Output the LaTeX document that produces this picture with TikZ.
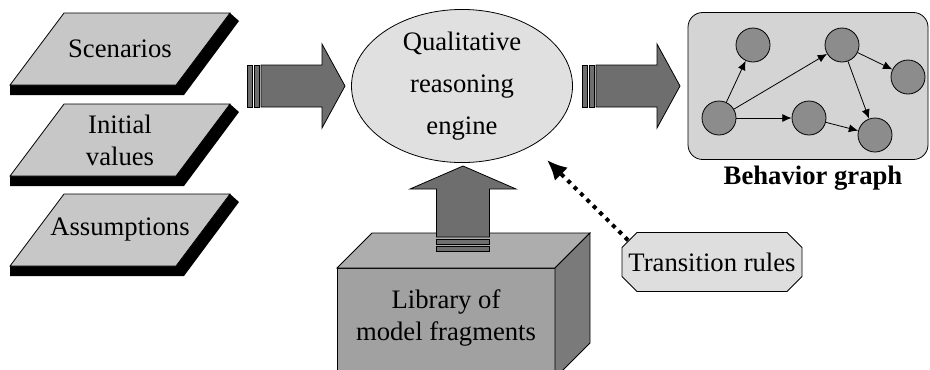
\documentclass[tikz,border=0pt]{standalone}
\usepackage{fontspec}
\setmainfont{Liberation Serif}
\usepackage{tikz}
\usetikzlibrary{shapes,arrows.meta,calc}
\definecolor{qrsheet}{rgb}{0.78,0.78,0.78}
\definecolor{qrengine}{rgb}{0.88,0.88,0.88}
\definecolor{qrblock}{rgb}{0.43,0.43,0.43}
\definecolor{qrgraph}{rgb}{0.83,0.83,0.83}
\definecolor{qrstate}{rgb}{0.55,0.55,0.55}
\definecolor{qrlibfront}{rgb}{0.63,0.63,0.63}
\definecolor{qrlibtop}{rgb}{0.68,0.68,0.68}
\definecolor{qrlibside}{rgb}{0.48,0.48,0.48}
\definecolor{qrrules}{rgb}{0.87,0.87,0.87}
\tikzstyle{qrsheet}=[draw, fill=qrsheet]
\tikzstyle{qrtext}=[align=center, inner sep=0pt]
\tikzstyle{qrblock}=[draw, fill=qrblock]
\tikzstyle{qrengine}=[ellipse, draw, fill=qrengine, inner sep=0pt, minimum width=165.75pt, minimum height=110.25pt, align=center, font=\fontsize{20}{31.5}\selectfont]
\tikzstyle{qrgraph}=[rectangle, rounded corners=11pt, draw, fill=qrgraph, minimum width=180pt, minimum height=110.25pt]
\tikzstyle{qrstate}=[circle, draw, fill=qrstate, inner sep=0pt, minimum size=25.5pt]
\tikzstyle{qredge}=[-{Latex[length=7pt,width=6pt]}]
\tikzstyle{qrlabel}=[font=\fontsize{20}{24}\selectfont\bfseries]
\tikzstyle{qrrules}=[inner xsep=0pt, inner ysep=9pt]
\tikzstyle{qrhint}=[line width=3pt, dash pattern=on 3pt off 3.75pt, -{Latex[length=15pt,width=14pt]}]
\newcommand{\qrsheet}[3]{
	\fill[black] ($(#2)+(-110,36)$) -- ++(0,10) -- ++(174,0) -- ++(55,-74) -- ++(-9,-8) -- cycle;
	\draw[qrsheet] ($(#2)+(-56,-36)$) -- ++(166,0) -- ++(-54,72) -- ++(-166,0) -- cycle;
	\node[qrtext] (#1) at (#2) {#3};}
\newcommand{\qrrule}[3]{
	\draw[fill=qrrules] ($(#2)+(-90,-14.5)$) -- ++(15,-15) -- ++(150,0) -- ++(15,15) -- ++(0,29) -- ++(-15,15) -- ++(-150,0) -- ++(-15,-15) -- cycle;
	\node[qrrules] (#1) at (#2) {#3};}
\newcommand{\qrarrow}[4]{
	\begin{scope}[shift={(#1)}, rotate=#2]
		\draw[qrblock] (0,-#4) rectangle (5,#4);
		\draw[qrblock] (7,-#4) rectangle (12,#4);
		\draw[qrblock] (14,-#4) -- ++(#3,0) -- ++(0,-#4) -- ++(23,2*#4) -- ++(-23,2*#4) -- ++(0,-#4) -- ++(-#3,0) -- cycle;
	\end{scope}}

\begin{document}
\begin{tikzpicture}[x=0.75pt, y=-0.75pt, line width=0.6pt, font=\fontsize{20}{24}\selectfont]
	\clip (0,0) rectangle (930,369);

	\qrsheet{scen}{120,49}{Scenarios}
	\qrsheet{init}{120,140}{Initial\\values}
	\qrsheet{assm}{120,230}{Assumptions}

	\qrarrow{247,86}{0}{61}{21}
	\node[qrengine] (eng) at (462,86) {Qualitative\\reasoning\\engine};
	\qrarrow{582,86}{0}{61}{21}

	\node[qrgraph] (graph) at (808,86) {};
	\node[qrstate] (s1) at (719,118) {};
	\node[qrstate] (s2) at (753,45) {};
	\node[qrstate] (s3) at (842,45) {};
	\node[qrstate] (s4) at (908,77) {};
	\node[qrstate] (s5) at (809,118) {};
	\node[qrstate] (s6) at (875,135) {};
	\path[qredge] (s1) edge (s2) edge (s3) edge (s5);
	\path[qredge] (s3) edge (s4) edge (s6);
	\path[qredge] (s5) edge (s6);
	\node[qrlabel] (glabel) at (813,178) {Behavior graph};

	\draw[fill=qrlibfront] (337,268) rectangle (555,380);
	\draw[fill=qrlibtop] (337,268) -- (372,233) -- (590,233) -- (555,268) -- cycle;
	\draw[fill=qrlibside] (555,268) -- (590,233) -- (590,343) -- (555,378) -- cycle;
	\node[qrtext] (lib) at (446,318) {Library of\\model fragments};
	\qrarrow{463,251}{90}{48}{26.5}

	\qrrule{rules}{712,262}{Transition rules}
	\coordinate (hint) at (547,160);
	\draw[qrhint] (rules.north west) -- (hint);
\end{tikzpicture}
\end{document}
